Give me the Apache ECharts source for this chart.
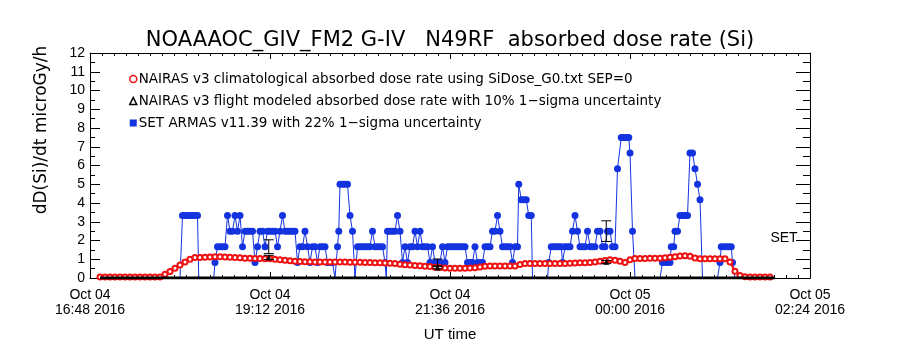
<!DOCTYPE html>
<html>
<head>
<meta charset="utf-8">
<title>NOAAAOC_GIV_FM2 absorbed dose rate</title>
<script src="https://cdn.jsdelivr.net/npm/echarts@6/dist/echarts.min.js"></script>
<style>
  html, body { margin: 0; padding: 0; background: #fff; }
  #chart { width: 900px; height: 350px; }
</style>
</head>
<body>
<div id="chart"></div>
<script>
  // x values are minutes after Oct 04 16:48 UT
  var xTickLabels = ['Oct 04\n16:48 2016', 'Oct 04\n19:12 2016', 'Oct 04\n21:36 2016', 'Oct 05\n00:00 2016', 'Oct 05\n02:24 2016']

  // NAIRAS v3 climatological (red)
  var nairasMin = [8, 12, 16, 20, 24, 28, 32, 36, 40, 44, 48, 52, 56, 60, 64, 68, 72, 76, 80, 84,
    88, 92, 96, 100, 104, 108, 112, 116, 120, 124, 128, 132, 136, 140, 144, 148, 152, 156, 160, 164,
    168, 172, 176, 180, 184, 188, 192, 196, 200, 204, 208, 212, 216, 220, 224, 228, 232, 236, 240, 244,
    248, 252, 256, 260, 264, 268, 272, 276, 280, 284, 288, 292, 296, 300, 304, 308, 312, 316, 320, 324,
    328, 332, 336, 340, 344, 348, 352, 356, 360, 364, 368, 372, 376, 380, 384, 388, 392, 396, 400, 404,
    408, 412, 416, 420, 424, 428, 432, 436, 440, 444, 448, 452, 456, 460, 464, 468, 472, 476, 480, 484,
    488, 492, 496, 500, 504, 508, 512, 516, 520, 524, 528, 532, 536, 540, 544]
  var nairasDose = [0.05, 0.05, 0.05, 0.05, 0.05, 0.05, 0.05, 0.05, 0.05, 0.05, 0.05, 0.05, 0.06, 0.2, 0.35, 0.52, 0.7, 0.86, 1.0, 1.09,
    1.1, 1.11, 1.12, 1.13, 1.13, 1.12, 1.11, 1.1, 1.08, 1.06, 1.05, 1.04, 1.04, 1.03, 1.03, 1.0, 0.97, 0.95, 0.92, 0.9,
    0.88, 0.87, 0.87, 0.86, 0.86, 0.86, 0.85, 0.85, 0.85, 0.85, 0.84, 0.84, 0.84, 0.83, 0.83, 0.82, 0.81, 0.8, 0.79, 0.77,
    0.74, 0.71, 0.69, 0.67, 0.65, 0.63, 0.61, 0.58, 0.56, 0.54, 0.52, 0.52, 0.52, 0.52, 0.53, 0.55, 0.59, 0.63, 0.64, 0.64,
    0.64, 0.64, 0.64, 0.64, 0.72, 0.78, 0.78, 0.78, 0.77, 0.77, 0.77, 0.77, 0.77, 0.78, 0.79, 0.8, 0.81, 0.82, 0.83, 0.85,
    0.89, 0.93, 0.97, 0.95, 0.9, 0.83, 0.98, 1.04, 1.04, 1.04, 1.05, 1.05, 1.05, 1.08, 1.11, 1.14, 1.17, 1.19, 1.16, 1.07,
    1.03, 1.03, 1.03, 1.03, 1.03, 1.03, 0.85, 0.36, 0.14, 0.07, 0.05, 0.05, 0.05, 0.05, 0.05]

  // NAIRAS v3 flight modeled (black)
  var flightMin = [8, 48, 88, 128, 168, 208, 248, 288, 328, 368, 408, 448, 488, 528, 548]
  var flightDose = [0, 0, 0, 0, 0, 0, 0, 0, 0, 0, 0, 0, 0, 0, 0]

  // SET ARMAS v11.39 (blue), [minute, dose]
  var armas = [[72, 0], [74, 3.33], [76, 3.33], [78, 3.33], [80, 3.33], [82, 3.33], [84, 3.33], [86, 3.33],
    [87, 0], [90, 0], [93, 0], [96, 0], [99, 0], [100, 0.83],
    [102, 1.67], [104, 1.67], [106, 1.67], [108, 1.67],
    [110, 3.33], [112, 2.5], [114, 2.5], [116, 3.33], [118, 2.5], [120, 3.33], [122, 1.67], [124, 2.5], [126, 2.5], [128, 2.5], [130, 2.5],
    [132, 0.83], [134, 1.67], [136, 2.5], [138, 2.5], [140, 1.67], [142, 2.5], [144, 2.5], [146, 2.5], [148, 2.5], [150, 1.67],
    [152, 2.5], [154, 3.33], [156, 2.5], [158, 2.5], [160, 2.5], [162, 2.5], [164, 2.5],
    [166, 0.83], [168, 1.67], [170, 1.67], [172, 2.5], [174, 1.67], [176, 0.83], [178, 1.67], [180, 1.67], [182, 0.83], [184, 1.67],
    [186, 1.67], [188, 1.67], [190, 0.83], [192, 0.83], [194, 0.83], [196, 0],
    [198, 1.67], [199, 2.5], [200, 5], [202, 5], [204, 5], [206, 5], [208, 3.33], [210, 2.5], [212, 0],
    [214, 1.67], [216, 1.67], [218, 1.67], [220, 1.67], [222, 1.67], [224, 1.67], [226, 2.5], [228, 1.67], [230, 1.67], [232, 1.67], [234, 1.67],
    [236, 0.83], [237, 0], [238, 2.5], [240, 2.5], [242, 2.5], [244, 2.5], [246, 3.33], [248, 2.5], [250, 0.83],
    [252, 1.67], [254, 0.83], [256, 1.67], [258, 1.67], [260, 2.5], [262, 1.67], [264, 2.5], [266, 1.67], [268, 1.67], [270, 1.67],
    [272, 0.83], [274, 1.67], [276, 0.83], [278, 0.83], [280, 0.83], [282, 1.67], [284, 0.83],
    [286, 1.67], [288, 1.67], [290, 1.67], [292, 1.67], [294, 1.67], [296, 1.67], [298, 1.67], [300, 1.67],
    [302, 0.83], [304, 0.83], [306, 0.83], [308, 1.67], [310, 0.83], [312, 0.83], [314, 0.83],
    [316, 1.67], [318, 1.67], [320, 1.67], [322, 2.5], [324, 2.5], [326, 3.33], [328, 2.5], [330, 1.67], [332, 1.67], [334, 1.67],
    [336, 1.67], [338, 0.83], [340, 1.67], [342, 1.67],
    [343, 5], [345, 4.17], [347, 4.17], [349, 4.17], [351, 3.33], [353, 3.33], [354, 0], [357, 0], [360, 0], [363, 0], [366, 0],
    [367, 0.83], [369, 1.67], [371, 1.67], [373, 1.67], [375, 1.67], [377, 1.67], [378, 0.83], [380, 1.67], [382, 1.67], [384, 1.67],
    [386, 2.5], [388, 3.33], [390, 2.5],
    [392, 1.67], [394, 1.67], [396, 1.67], [398, 2.5], [400, 1.67], [402, 1.67], [404, 1.67], [406, 2.5], [408, 2.5], [410, 1.67],
    [412, 1.67], [414, 2.5], [416, 2.5], [418, 1.67], [420, 1.67],
    [422, 5.83], [425, 7.5], [427, 7.5], [429, 7.5], [431, 7.5], [432, 6.67], [434, 2.5], [436, 0],
    [440, 0], [444, 0], [448, 0], [452, 0], [456, 0],
    [458, 0.83], [460, 0.83], [462, 0.83], [464, 0.83], [465, 1.67], [467, 1.67], [468, 2.5], [470, 2.5],
    [472, 3.33], [474, 3.33], [476, 3.33], [478, 3.33], [480, 6.67], [482, 6.67], [484, 5.83], [486, 5], [488, 4.17], [490, 0],
    [494, 0], [498, 0], [502, 0],
    [504, 0.83], [505, 1.67], [507, 1.67], [509, 1.67], [511, 1.67], [513, 1.67], [514, 0.83], [516, 0]]

  // 1-sigma error bars
  var errMin = [143, 278, 413]
  var errArmas = [1.67, 0.83, 2.5]
  var errFlight = [1.1, 0.55, 0.85]
  var armasSigma = 0.22
  var flightSigma = 0.10

  var FONT = 'Liberation Sans'
  var WIDE = 'DejaVu Sans'
  var RED = '#ee1111'
  var BLUE = '#1433e0'
  var NAME1 = 'NAIRAS v3 climatological absorbed dose rate using SiDose_G0.txt SEP=0'
  var NAME2 = 'NAIRAS v3 flight modeled absorbed dose rate with 10% 1\u2212sigma uncertainty'
  var NAME3 = 'SET ARMAS v11.39 with 22% 1\u2212sigma uncertainty'

  function errorBar (params, api) {
    var x = api.value(0)
    var lo = api.coord([x, api.value(1)])
    var hi = api.coord([x, api.value(2)])
    var cap = 5
    var st = {stroke: '#000', lineWidth: 1}
    return {
      type: 'group',
      children: [
        {type: 'line', shape: {x1: lo[0], y1: lo[1], x2: hi[0], y2: hi[1]}, style: st},
        {type: 'line', shape: {x1: lo[0] - cap, y1: lo[1], x2: lo[0] + cap, y2: lo[1]}, style: st},
        {type: 'line', shape: {x1: hi[0] - cap, y1: hi[1], x2: hi[0] + cap, y2: hi[1]}, style: st}
      ]
    }
  }

  var chart = echarts.init(document.getElementById('chart'))
  var axisLine = {show: true, onZero: false, lineStyle: {color: '#000', width: 1}}

  var option = {
    animation: false,
    backgroundColor: '#fff',
    textStyle: {fontFamily: FONT, color: '#000'},
    title: {
      text: 'NOAAAOC_GIV_FM2 G-IV   N49RF  absorbed dose rate (Si)',
      left: 'center',
      top: 25,
      textStyle: {fontFamily: WIDE, fontSize: 21, fontWeight: 'normal', color: '#000'}
    },
    grid: {left: 90, right: 90, top: 53, bottom: 72},
    legend: {
      orient: 'vertical',
      left: 124,
      top: 67,
      itemWidth: 7,
      itemHeight: 7,
      itemGap: 8,
      textStyle: {fontFamily: WIDE, fontSize: 13.5, color: '#000', padding: [0, 0, 0, -3]},
      data: [
        {name: NAME1, icon: 'circle', itemStyle: {color: '#fff', borderColor: RED, borderWidth: 1.5}},
        {name: NAME2, icon: 'triangle', itemStyle: {color: '#fff', borderColor: '#000', borderWidth: 1.5}},
        {name: NAME3, icon: 'rect', itemStyle: {color: BLUE}}
      ]
    },
    xAxis: [
      {
        type: 'value', min: 0, max: 576, interval: 144,
        name: 'UT time', nameLocation: 'middle', nameGap: 49,
        nameTextStyle: {fontFamily: FONT, fontSize: 15, color: '#000'},
        axisLine: axisLine,
        axisTick: {show: true, inside: true, length: 6, lineStyle: {color: '#000'}},
        minorTick: {show: true, splitNumber: 15, length: 3, lineStyle: {color: '#000'}},
        splitLine: {show: false},
        axisLabel: {
          margin: 10, fontFamily: FONT, fontSize: 14, lineHeight: 15, color: '#000',
          formatter: function (v) { return xTickLabels[Math.round(v / 144)] }
        }
      },
      {
        type: 'value', min: 0, max: 576, interval: 144, position: 'top',
        axisLine: axisLine,
        axisTick: {show: true, inside: true, length: 6, lineStyle: {color: '#000'}},
        minorTick: {show: true, splitNumber: 15, length: 3, lineStyle: {color: '#000'}},
        splitLine: {show: false},
        axisLabel: {show: false}
      }
    ],
    yAxis: [
      {
        type: 'value', min: 0, max: 12, interval: 1,
        axisLine: axisLine,
        axisTick: {show: true, inside: true, length: 10, lineStyle: {color: '#000'}},
        minorTick: {show: true, splitNumber: 2, length: 5, lineStyle: {color: '#000'}},
        splitLine: {show: false},
        axisLabel: {
          margin: 5, fontFamily: FONT, fontSize: 14, color: '#000',
          showMinLabel: true, showMaxLabel: true
        }
      },
      {
        type: 'value', min: 0, max: 12, interval: 1, position: 'right',
        axisLine: axisLine,
        axisTick: {show: true, inside: true, length: 14, lineStyle: {color: '#000'}},
        minorTick: {show: true, splitNumber: 2, length: 7, lineStyle: {color: '#000'}},
        splitLine: {show: false},
        axisLabel: {show: false}
      }
    ],
    graphic: [
      {
        type: 'text', x: 42, y: 130, rotation: Math.PI / 2,
        style: {text: 'dD(Si)/dt microGy/h', font: '17px "DejaVu Sans"', fill: '#000',
          textAlign: 'center', textVerticalAlign: 'middle', align: 'center', verticalAlign: 'middle'}
      },
      {
        type: 'text', x: 784, y: 238,
        style: {text: 'SET', font: '14px "Liberation Sans"', fill: '#000',
          textAlign: 'center', textVerticalAlign: 'middle', align: 'center', verticalAlign: 'middle'}
      }
    ],
    series: [
      {
        name: NAME3,
        type: 'line',
        data: armas,
        symbol: 'circle',
        symbolSize: function (v) { return v[1] > 0 ? 7 : 0 },
        itemStyle: {color: BLUE},
        lineStyle: {color: BLUE, width: 1},
        z: 2
      },
      {
        name: NAME1,
        type: 'line',
        data: nairasMin.map(function (m, i) { return [m, nairasDose[i]] }),
        symbol: 'emptyCircle',
        symbolSize: 5,
        itemStyle: {color: RED, borderColor: RED, borderWidth: 1.5},
        lineStyle: {color: RED, width: 2},
        z: 3
      },
      {
        name: NAME2,
        type: 'line',
        data: flightMin.map(function (m, i) { return [m, flightDose[i]] }),
        symbol: 'none',
        itemStyle: {color: '#000'},
        lineStyle: {color: '#000', width: 3},
        z: 4
      },
      {
        name: NAME3,
        type: 'custom',
        renderItem: errorBar,
        encode: {x: 0, y: [1, 2]},
        data: errMin.map(function (m, i) { return [m, errArmas[i] * (1 - armasSigma), errArmas[i] * (1 + armasSigma)] }),
        z: 5
      },
      {
        name: NAME2,
        type: 'custom',
        renderItem: errorBar,
        encode: {x: 0, y: [1, 2]},
        data: errMin.map(function (m, i) { return [m, errFlight[i] * (1 - flightSigma), errFlight[i] * (1 + flightSigma)] }),
        z: 5
      },
      {
        name: NAME2,
        type: 'scatter',
        data: errMin.map(function (m, i) { return [m, errFlight[i]] }),
        symbol: 'triangle',
        symbolSize: 6,
        itemStyle: {color: '#000'},
        z: 6
      }
    ]
  }
  chart.setOption(option)
</script>
</body>
</html>
